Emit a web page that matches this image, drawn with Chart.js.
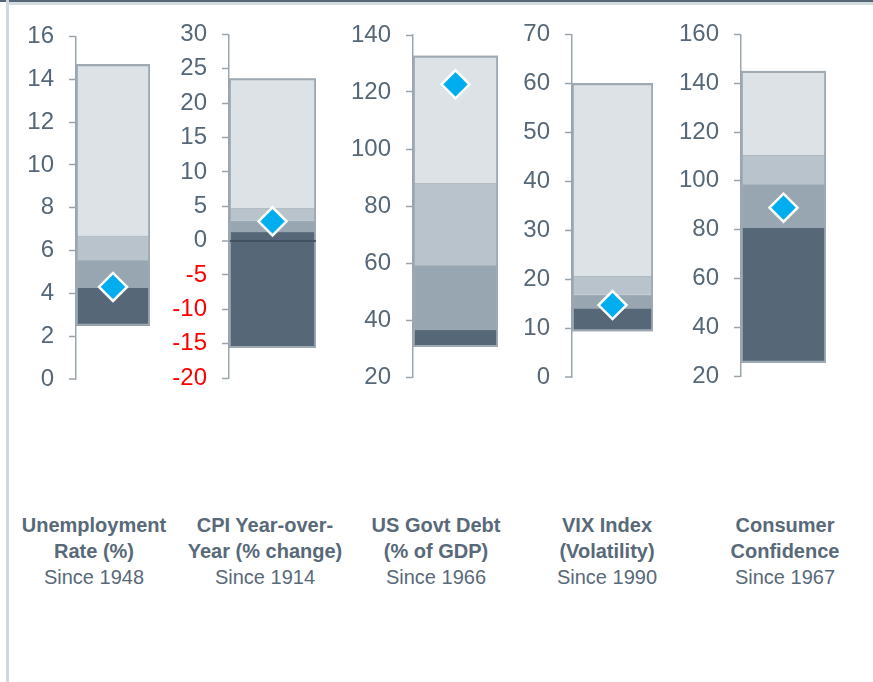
<!DOCTYPE html>
<html>
<head>
<meta charset="utf-8">
<script src="https://cdn.jsdelivr.net/npm/chart.js@4.4.1/dist/chart.umd.min.js"></script>
<style>
	body { margin: 0; background: #fff; width: 873px; height: 682px; overflow: hidden; position: relative; font-family: "Liberation Sans", Arial, sans-serif; }
	.top-dark { position: absolute; left: 0; top: 0; width: 873px; height: 2px; background: #566878; }
	.top-light { position: absolute; left: 6px; top: 2px; width: 867px; height: 3px; background: #d3dae0; }
	.left-rule { position: absolute; left: 6px; top: 0; width: 3px; height: 682px; background: #d0d8e0; }
	canvas { position: absolute; top: 0; }
	.label { position: absolute; top: 512px; width: 180px; margin-left: -90px; text-align: center; color: #586979; font-size: 20px; line-height: 26px; }
	.label b { display: block; }
</style>
</head>
<body>
<div class="top-dark"></div>
<div class="top-light"></div>
<div class="left-rule"></div>
<div id="panels"></div>
<script>
"use strict";

/********/
/* data */
/********/
const titles = [
	["Unemployment", "Rate (%)"],
	["CPI Year-over-", "Year (% change)"],
	["US Govt Debt", "(% of GDP)"],
	["VIX Index", "(Volatility)"],
	["Consumer", "Confidence"]
];
const sinceYears = ["Since 1948", "Since 1914", "Since 1966", "Since 1990", "Since 1967"];

// historical range, split into four bands (low -> high)
const rangeLow  = [2.5, -15.6, 30.6, 9.4, 25.5];
const band1Top  = [4.25, 1.2, 36.4, 14.0, 80.7];
const band2Top  = [5.55, 2.9, 59.2, 16.8, 98.6];
const band3Top  = [6.7, 4.7, 88.1, 20.6, 110.5];
const rangeHigh = [14.7, 23.6, 132.7, 60, 145];
// current reading (diamond)
const current   = [4.3, 2.8, 122.7, 14.7, 89.0];

// axis ticks
const axisMin  = [0, -20, 20, 0, 20];
const axisMax  = [16, 30, 140, 70, 160];
const axisStep = [2, 5, 20, 10, 20];

/**********/
/* layout */
/**********/
const axisX   = [76, 229, 413, 572, 741];
const barW    = [74, 87, 85, 81, 85];
const plotTop = [36.5, 34.5, 35, 34.5, 34.5];
const plotBot = [379, 378, 377, 377, 376];
const labelX  = [94, 265, 436, 607, 785];
const scaleW  = 70;
const canvasH = 430;

const colors = {
	dark: "#566878",
	mid: "#97a6b1",
	lightMid: "#b9c3cb",
	light: "#dde2e6",
	outline: "#9ea9b2",
	axis: "#9aa5ae",
	tick: "#566878",
	negative: "#ff0000",
	marker: "#00aeef"
};

/***********/
/* methods */
/***********/
function band(lo, hi, color, order, edge) {
	return {
		data: [[lo, hi]],
		backgroundColor: color,
		borderColor: "#a9b3bb",
		borderWidth: edge ? { top: 1, bottom: 0, left: 0, right: 0 } : 0,
		borderSkipped: false,
		grouped: false,
		barPercentage: 1,
		categoryPercentage: 1,
		order: order
	};
}

function buildPanel(i) {
	const canvas = document.createElement("canvas");
	canvas.width = scaleW + barW[i];
	canvas.height = canvasH;
	canvas.style.left = (axisX[i] - scaleW) + "px";
	document.getElementById("panels").append(canvas);

	const hasZero = axisMin[i] < 0;

	new Chart(canvas.getContext("2d"), {
		type: "bar",
		data: {
			labels: [titles[i].join(" ")],
			datasets: [
				band(rangeLow[i], band1Top[i], colors.dark, 5, false),
				band(band1Top[i], band2Top[i], colors.mid, 4, true),
				band(band2Top[i], band3Top[i], colors.lightMid, 3, true),
				band(band3Top[i], rangeHigh[i], colors.light, 2, true),
				{
					// outline round the whole range
					data: [[rangeLow[i], rangeHigh[i]]],
					backgroundColor: "rgba(0,0,0,0)",
					borderColor: colors.outline,
					borderWidth: 1.5,
					borderSkipped: false,
					grouped: false,
					barPercentage: 1,
					categoryPercentage: 1,
					order: 1
				},
				{
					type: "line",
					data: [current[i]],
					showLine: false,
					pointStyle: "rectRot",
					pointRadius: 14,
					pointBackgroundColor: colors.marker,
					pointBorderColor: "#ffffff",
					pointBorderWidth: 2.5,
					order: 0
				}
			]
		},
		options: {
			responsive: false,
			animation: false,
			layout: {
				autoPadding: false,
				padding: { top: plotTop[i], bottom: canvasH - plotBot[i], left: 0, right: 0 }
			},
			plugins: {
				legend: { display: false },
				tooltip: { enabled: false }
			},
			scales: {
				x: { display: false },
				y: {
					min: axisMin[i],
					max: axisMax[i],
					afterFit: scale => { scale.width = scaleW; },
					// grid and border both above the bars so the zero line shows
					border: { color: colors.axis, width: 1.5, z: 1 },
					grid: {
						drawOnChartArea: hasZero,
						z: 1,
						color: ctx => (hasZero && ctx.tick && ctx.tick.value === 0) ? "rgba(62,78,92,0.85)" : "rgba(0,0,0,0)",
						lineWidth: ctx => (ctx.tick && ctx.tick.value === 0) ? 2 : 1,
						tickColor: colors.axis,
						tickWidth: 1.5,
						tickLength: 7
					},
					ticks: {
						stepSize: axisStep[i],
						padding: 15,
						color: ctx => ctx.tick.value < 0 ? colors.negative : colors.tick,
						font: { family: "'Liberation Sans', Arial, sans-serif", size: 24 }
					}
				}
			}
		}
	});
}

function addLabel(i) {
	const div = document.createElement("div");
	div.className = "label";
	div.style.left = labelX[i] + "px";
	div.innerHTML = "<b>" + titles[i][0] + "</b><b>" + titles[i][1] + "</b>" + sinceYears[i];
	document.body.append(div);
}

/********/
/* MAIN */
/********/
(function main() {
	for (let i = 0; i < titles.length; i++) {
		buildPanel(i);
		addLabel(i);
	}
})();
</script>
</body>
</html>
